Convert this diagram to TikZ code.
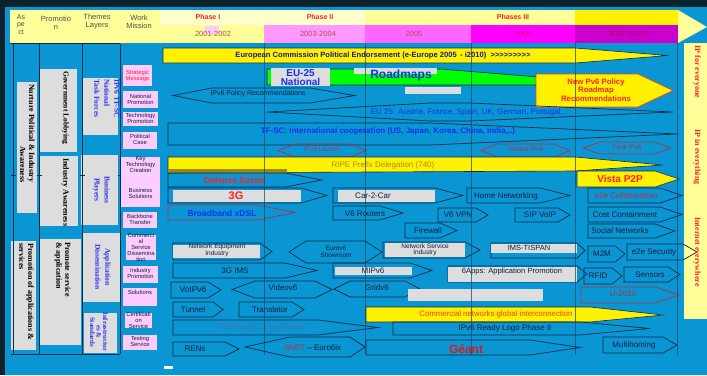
\documentclass[tikz,border=0pt]{standalone}
\usepackage{fontspec}
\setmainfont{Liberation Serif}
\setsansfont{Liberation Sans}
\definecolor{frame}{HTML}{0C222C}
\definecolor{bg}{HTML}{0A96D2}
\definecolor{ol}{HTML}{0E2C48}
\definecolor{hdr}{HTML}{FFFF99}
\definecolor{cream}{HTML}{FFFFCC}
\definecolor{pkA}{HTML}{FF99FF}
\definecolor{pkB}{HTML}{FF66FF}
\definecolor{mag}{HTML}{FF00FF}
\definecolor{purp}{HTML}{CC00CC}
\definecolor{pinkbox}{HTML}{FFCCFF}
\definecolor{graybox}{HTML}{DDDDDD}
\definecolor{lbl}{HTML}{0F1E3C}
\definecolor{redtxt}{HTML}{FF2020}
\definecolor{dusty}{HTML}{B03048}
\definecolor{bluetxt}{HTML}{1430F0}
\definecolor{sideblue}{HTML}{3030F0}
\definecolor{navytxt}{HTML}{1A1A80}
\definecolor{yeartxt}{HTML}{B05050}
\definecolor{vline}{HTML}{1A4466}
\definecolor{ripeshade}{HTML}{9A8A10}
\definecolor{ripetxt}{HTML}{B08A00}
\definecolor{steel}{HTML}{5070A8}
\definecolor{cmtxt}{HTML}{FF3A10}
\definecolor{hdrtxt}{HTML}{505050}
\definecolor{greenbar}{HTML}{00FF00}
\newcommand\fsz[2]{\fontsize{#1}{#2}\selectfont}
% a single '>' that never merges with its neighbour into a guillemet
\newcommand\gtsign{>\kern0pt}
% pentagon arrow: options, left x, shoulder x, tip x, top y, bottom y
\newcommand\arrowshape[6]{\path[#1] (#2,#5) -- (#3,#5) -- (#4,{(#5+#6)/2}) -- (#3,#6) -- (#2,#6) -- cycle;}
% hexagon: options, left tip, left shoulder, right shoulder, right tip, top y, bottom y
\newcommand\hexshape[7]{\path[#1] (#2,{(#6+#7)/2}) -- (#3,#6) -- (#4,#6) -- (#5,{(#6+#7)/2}) -- (#4,#7) -- (#3,#7) -- cycle;}
\tikzset{
  outl/.style={draw=ol, line width=0.7pt},
  redol/.style={draw=dusty, line width=0.7pt},
  yelbox/.style={fill=yellow, draw=ol, line width=0.6pt},
  grey/.style={fill=graybox},
  pink/.style={fill=pinkbox},
  colline/.style={draw=ol, line width=0.8pt},
  phaseline/.style={draw=vline, line width=0.6pt, opacity=0.7},
  lab/.style={font=\sffamily\fsz{8}{9}, text=lbl, inner sep=0pt, align=center},
  small/.style={font=\sffamily\fsz{6.5}{6.5}, text=lbl, inner sep=0pt, align=center},
  tiny/.style={font=\sffamily\fsz{5.8}{6}, text=lbl, inner sep=0pt, align=center},
  hdrlab/.style={font=\sffamily\fsz{7.5}{8}, text=hdrtxt, inner sep=0pt, align=center},
  phaselab/.style={font=\sffamily\bfseries\fsz{7}{8}, text=redtxt, inner sep=0pt},
  yearlab/.style={font=\sffamily\fsz{7.5}{8}, text=yeartxt, inner sep=0pt},
  side/.style={font=\rmfamily\bfseries\fsz{8}{9}, text=black, rotate=-90, anchor=north west, inner sep=0pt},
  bside/.style={font=\rmfamily\bfseries\fsz{7.5}{10}, text=sideblue, rotate=-90, inner sep=0pt, align=center},
  rside/.style={font=\rmfamily\bfseries\fsz{8}{9}, text=redtxt, rotate=-90, inner sep=0pt},
}
\begin{document}
\begin{tikzpicture}[x=1pt,y=-1pt]
\useasboundingbox (0,0) rectangle (707,375);
% frame and background
\fill[frame] (0,0) rectangle (707,375);
\fill[bg] (5,7) rectangle (707,375);

% header band with the phase time line
\fill[hdr] (10,10) rectangle (160,43);
\fill[cream] (160,10) rectangle (365,25);
\fill[hdr] (365,10) rectangle (575,25);
\fill[yellow] (575,10) rectangle (678,25);
\fill[hdr] (160,25) rectangle (264,43);
\fill[pinkbox] (205,26) rectangle (219,34);
\fill[pkA] (264,25) rectangle (365,43);
\fill[pkB] (365,25) rectangle (471,43);
\fill[mag] (471,25) rectangle (575,43);
\fill[purp] (575,25) rectangle (678,43);
\fill[hdr] (678,10) -- (707,27) -- (678,43) -- cycle;

\node[hdrlab, font=\sffamily\fsz{7}{7.5}] (hAspect) at (21,24.5) {As\\pe\\ct};
\node[hdrlab] (hPromo) at (56,22.5) {Promotio\\n};
\node[hdrlab] (hThemes) at (97,21.5) {Themes\\Layers};
\node[hdrlab] (hWork) at (139,21.5) {Work\\Mission};

\node[phaselab] (ph1) at (208,16.5) {Phase I};
\node[phaselab] (ph2) at (320,16.5) {Phase II};
\node[phaselab] (ph3) at (513,16.5) {Phases III};
\node[yearlab] (y1) at (213,34) {2001-2002};
\node[yearlab] (y2) at (318,34) {2003-2004};
\node[yearlab] (y3) at (414,34) {2005};
\node[yearlab, text=purp!70!red] (y4) at (523,34) {2006};
\node[yearlab, text=purp!60!red!80!black] (y5) at (627,34) {2007-2010};

% right side panel
\fill[hdr] (684,43) rectangle (707,319);

% left columns: aspects, promotion, theme layers
\fill[grey] (17,82) rectangle (37,213);
\fill[grey] (11,241) rectangle (36,350);
\fill[grey] (39,69) rectangle (77,152);
\fill[grey] (40,156) rectangle (78,226);
\fill[grey] (40,239) rectangle (81,345);
\fill[grey] (83,78) rectangle (118,135);
\fill[grey] (81,155) rectangle (118,225);
\fill[grey] (83,233) rectangle (120,302);
\fill[grey] (84,313) rectangle (117,353);

\draw[colline] (10,43.5) -- (120,43.5);
\draw[colline] (13,44) -- (13,354);
\draw[colline] (39,44) -- (39,354);
\draw[colline] (82,44) -- (82,354);
\draw[colline] (120,44) -- (120,354);
\draw[colline] (11,354) -- (120,354);
\foreach \cx in {13,39,82,120} \draw[colline] (\cx-2.5,175) -- (\cx+2.5,175);

\node[side, align=right] (nurture) at (35,84) {Nurture Political \& Industry\\Awareness};
\node[side, align=left] (promApp) at (34,243) {Promotion of applications \&\\services};
\node[side, font=\rmfamily\bfseries\fsz{7.5}{9}] (govLob) at (69,71) {Government Lobbying};
\node[side] (indAw) at (69,158) {Industry Awareness};
\node[side, align=left] (promServ) at (71,242) {Promote service\\\& application};

\node[bside, anchor=north west, align=left] (taskF) at (119.5,79) {IPv6 TF-SC\\National\\Task Forces};
\node[bside] (busPl) at (101.5,190) {Business\\Players};
\node[bside] (appDis) at (103,267) {Application\\Dissemination};
\node[bside, font=\rmfamily\bfseries\fsz{6.8}{6.5}] (infra) at (99,332) {Infrastructur\\es \&\\Standards};

% work mission boxes
\fill[pink] (123,65) rectangle (152,86);
\fill[pink] (123,91) rectangle (158,108);
\fill[pink] (123,112) rectangle (158,126);
\fill[pink] (123,132) rectangle (157,149);
\fill[pink] (121,157) rectangle (160,207);
\fill[pink] (123,212) rectangle (157,228);
\fill[pink] (126,235) rectangle (156,260);
\fill[pink] (123,266) rectangle (158,283);
\fill[pink] (123,288) rectangle (157,306);
\fill[pink] (125,313) rectangle (152,328);
\fill[pink] (123,335) rectangle (157,350);

\node[tiny, text=redtxt] (wStrat) at (137.5,75.5) {Strategic\\Message};
\node[tiny] (wNat) at (140.5,99) {National\\Promotion};
\node[tiny] (wTech) at (140.5,118.5) {Technology\\Promotion};
\node[tiny] (wPol) at (140,139) {Political\\Case};
\node[tiny] (wKey) at (140.5,164.5) {Key\\Technology\\Creation};
\node[tiny] (wBus) at (140.5,193) {Business\\Solutions};
\node[tiny] (wBack) at (140,219) {Backbone\\Transfer};
\node[tiny] (wComm) at (141,247.5) {Commerci\\al\\Service\\Dissemina\\tion};
\node[tiny] (wInd) at (140.5,273) {Industry\\Promotion};
\node[tiny] (wSol) at (140,292) {Solutions};
\node[tiny] (wCert) at (138.5,320) {Certificati\\on\\Service};
\node[tiny] (wTest) at (140,341) {Testing\\Service};

% ---- policy rows ----
\arrowshape{yelbox}{163}{575}{668}{48}{63}
\node[font=\sffamily\bfseries\fsz{7.6}{8}, text=navytxt, inner sep=0pt] (ec) at (383,55.5)
  {European Commission Political Endorsement (e-Europe 2005 \,- i2010) \ \gtsign\gtsign\gtsign\gtsign\gtsign\gtsign\gtsign\gtsign\gtsign};

\path[fill=greenbar, draw=ol, line width=0.6pt] (267,69) -- (440,69) -- (575,80) -- (540,85) -- (267,85) -- cycle;
\fill[grey] (271,68) rectangle (330,86);
\node[font=\sffamily\bfseries\fsz{10}{9.5}, text=bluetxt, align=center, inner sep=0pt] (eu25) at (300.5,77.5) {EU-25\\National};
\fill[grey] (354,68) rectangle (437,74);
\fill[grey] (405,87) rectangle (461,94);
\node[font=\sffamily\bfseries\fsz{12}{12}, text=bluetxt, inner sep=0pt] (roadmaps) at (401,75.5) {Roadmaps};

\arrowshape{fill=yellow, draw=cmtxt, line width=0.7pt}{536}{638}{673}{74}{107}
\node[font=\sffamily\bfseries\fsz{7.8}{8.5}, text=redtxt, align=center, inner sep=0pt] (newpol) at (596,90) {New Pv6 Policy\\Roadmap\\Recommendations};

\hexshape{outl}{173}{212}{310}{355}{88}{103}
\node[small, font=\sffamily\fsz{7}{7}] (polrec) at (258,93.5) {IPv6 Policy Recommendations};

\path[outl] (267,112) -- (430,103) -- (470,103) -- (673,112) -- (470,121) -- (430,121) -- cycle;
\node[lab, text=bluetxt] (eu25c) at (469,112) {EU 25: Austria, France, Spain, UK, German, Portugal,..};

\path[outl] (168,123) -- (430,123) -- (678,134) -- (430,145) -- (168,145) -- cycle;
\node[font=\sffamily\bfseries\fsz{8}{9}, text=bluetxt, inner sep=0pt] (tfsc) at (388,131.5) {TF-SC: International cooperation (US, Japan, Korea, China, India,..)};

\hexshape{redol}{278}{295}{350}{366}{144}{157}
\node[small, text=dusty] (launch) at (322,149.5) {IPv6 Launch};
\hexshape{redol}{481}{497}{554}{570}{144}{157}
\node[small, text=dusty] (vienna) at (525.5,149.5) {Vienna IPv6};
\hexshape{redol}{583}{600}{655}{671}{142}{154}
\node[small, text=dusty] (final) at (627,147.5) {Final IPv6};

% ---- technology rows ----
\path[yelbox] (168,157) -- (575,157) -- (663,165) -- (575,171) -- (168,173) -- cycle;
\fill[ripeshade] (168.4,169) rectangle (287,172.6);
\node[lab, text=ripetxt] (ripe) at (383,165) {RIPE Prefix Delegation (740)};

\arrowshape{outl}{168}{285}{322}{173}{187}
\node[font=\sffamily\bfseries\fsz{8.5}{9}, text=redtxt, inner sep=0pt] (defense) at (235,180) {Defense Sector};
\arrowshape{yelbox}{577}{655}{679}{171}{187}
\node[font=\sffamily\bfseries\fsz{10}{10}, text=redtxt, inner sep=0pt] (vista) at (620,179) {Vista P2P};

\arrowshape{outl}{168}{301}{327}{188}{203}
\fill[grey] (173,190) rectangle (301,202);
\node[font=\sffamily\bfseries\fsz{11}{11}, text=redtxt, inner sep=0pt] (g3) at (236,196) {3G};
\arrowshape{outl}{333}{435}{463}{188}{203}
\fill[grey] (338,190) rectangle (435,202);
\node[lab] (car) at (373,196) {Car-2-Car};
\arrowshape{outl}{467}{540}{570}{188}{203}
\node[lab] (home) at (506,196) {Home Networking};
\arrowshape{outl}{588}{660}{682}{188}{203}
\node[lab, text=dusty] (e2ecol) at (626,195.5) {e2e Collaboration};

\arrowshape{redol}{168}{258}{295}{205}{220}
\node[font=\sffamily\bfseries\fsz{8.5}{9}, text=bluetxt, inner sep=0pt] (bband) at (222,213) {Broadband xDSL};
\arrowshape{outl}{333}{380}{403}{206}{220}
\node[lab] (v6r) at (365,213.5) {V6 Routers};
\arrowshape{outl}{438}{476}{488}{208}{222}
\node[lab] (vpn) at (458,215) {V6 VPN};
\arrowshape{outl}{515}{558}{570}{208}{222}
\node[lab] (sip) at (540,215) {SIP VoIP};
\arrowshape{outl}{588}{660}{682}{207}{222}
\node[lab] (cost) at (625,214.5) {Cost Containment};

\arrowshape{outl}{405}{440}{457}{223}{238}
\node[lab] (fw) at (428,231) {Firewall};
\arrowshape{outl}{588}{655}{675}{224}{238}
\node[lab] (social) at (620,231) {Social Networks};

% ---- application rows ----
\arrowshape{outl}{173}{260}{272}{243}{260}
\fill[grey] (173,245) rectangle (260,258);
\node[small] (neteq) at (217,250.5) {Network Equipment\\Industry};
\hexshape{outl}{289}{306}{365}{382}{241}{263}
\node[small] (eurov6) at (336,252) {Eurov6\\Showroom};
\arrowshape{outl}{383}{465}{480}{242}{258}
\fill[grey] (385,243) rectangle (465,257);
\node[small] (netserv) at (425,250) {Network Service\\Industry};
\arrowshape{outl}{491}{577}{585}{243}{258}
\fill[grey] (491,244) rectangle (577,253);
\node[lab, font=\sffamily\fsz{7.5}{8}] (ims) at (529,248) {IMS-TISPAN};
\arrowshape{outl}{588}{615}{625}{246}{262}
\node[lab] (m2m) at (602,254) {M2M};
\arrowshape{outl}{627}{683}{697}{244}{260}
\node[lab] (e2esec) at (654,252) {e2e Security};

\arrowshape{outl}{173}{285}{317}{263}{278}
\node[lab] (ims3g) at (235,270.5) {3G IMS};
\arrowshape{outl}{333}{410}{432}{263}{278}
\fill[grey] (335,267) rectangle (412,275);
\node[lab] (mip) at (373,270.5) {MIPv6};
\arrowshape{outl}{448}{577}{587}{266}{282}
\fill[grey] (448,267) rectangle (577,282);
\node[lab, font=\sffamily\fsz{7.6}{8}] (sixapps) at (512,272) {6Apps: Application Promotion};
\arrowshape{outl}{584}{612}{622}{268}{284}
\node[lab] (rfid) at (598,276) {RFID};
\arrowshape{outl}{624}{668}{680}{267}{282}
\node[lab] (sensors) at (650,274.5) {Sensors};

\arrowshape{outl}{171}{208}{221}{282}{298}
\node[lab, font=\sffamily\fsz{8.5}{9}] (voip) at (193,290) {VoIPv6};
\hexshape{outl}{232}{255}{315}{332}{281}{298}
\node[lab] (video) at (283,288) {Videov6};
\hexshape{outl}{334}{350}{405}{420}{281}{297}
\node[lab] (grid) at (377,288) {Gridv6};
\fill[grey] (408,289) rectangle (543,301);
\arrowshape{redol}{581}{655}{679}{287}{303}
\node[lab, text=dusty] (u2010) at (623,294) {U-2010};

% ---- infrastructure rows ----
\arrowshape{outl}{173}{213}{223}{302}{317}
\node[lab] (tunnel) at (193,310) {Tunnel};
\arrowshape{outl}{239}{292}{304}{302}{317}
\node[lab] (transl) at (270,310) {Translator};
\path[yelbox] (366,307) -- (590,307) -- (663,315) -- (590,322) -- (366,322) -- cycle;
\node[font=\sffamily\fsz{7.8}{8}, text=cmtxt, inner sep=0pt] (commnet) at (496,314.5) {Commercial networks global interconnection};

\arrowshape{outl}{173}{318}{378}{320}{335}
\node[lab, text=steel] (logo1) at (262,327.5) {IPv6 Ready Logo Phase I};
\arrowshape{outl}{393}{580}{650}{322}{335}
\node[lab] (logo2) at (505,328.5) {IPv6 Ready Logo Phase II};

\arrowshape{outl}{173}{225}{239}{342}{356}
\node[lab] (rens) at (195,348.5) {RENs};
\hexshape{outl}{245}{290}{350}{365}{337}{357}
\node[lab] (sixnet) at (313,348) {\textcolor{dusty}{6NET} – Euro6ix};
\arrowshape{outl}{366}{530}{580}{340}{355}
\node[font=\sffamily\bfseries\fsz{12}{12}, text=redtxt!85!black, inner sep=0pt] (geant) at (466,349) {Géant};
\arrowshape{outl}{603}{663}{677}{337}{353}
\node[lab] (multi) at (634,345) {Multihoming};

\fill[white] (164,366) rectangle (173,369);

% phase boundaries
\foreach \px in {264,365,471,575,677} \draw[phaseline] (\px,43) -- (\px,355);

% side panel captions
\node[rside] (ipall) at (697,72) {IP for everyone};
\node[rside] (ipthings) at (697,157) {IP in everything};
\node[rside] (ipwhere) at (697,252) {Internet everywhere};
\end{tikzpicture}
\end{document}
